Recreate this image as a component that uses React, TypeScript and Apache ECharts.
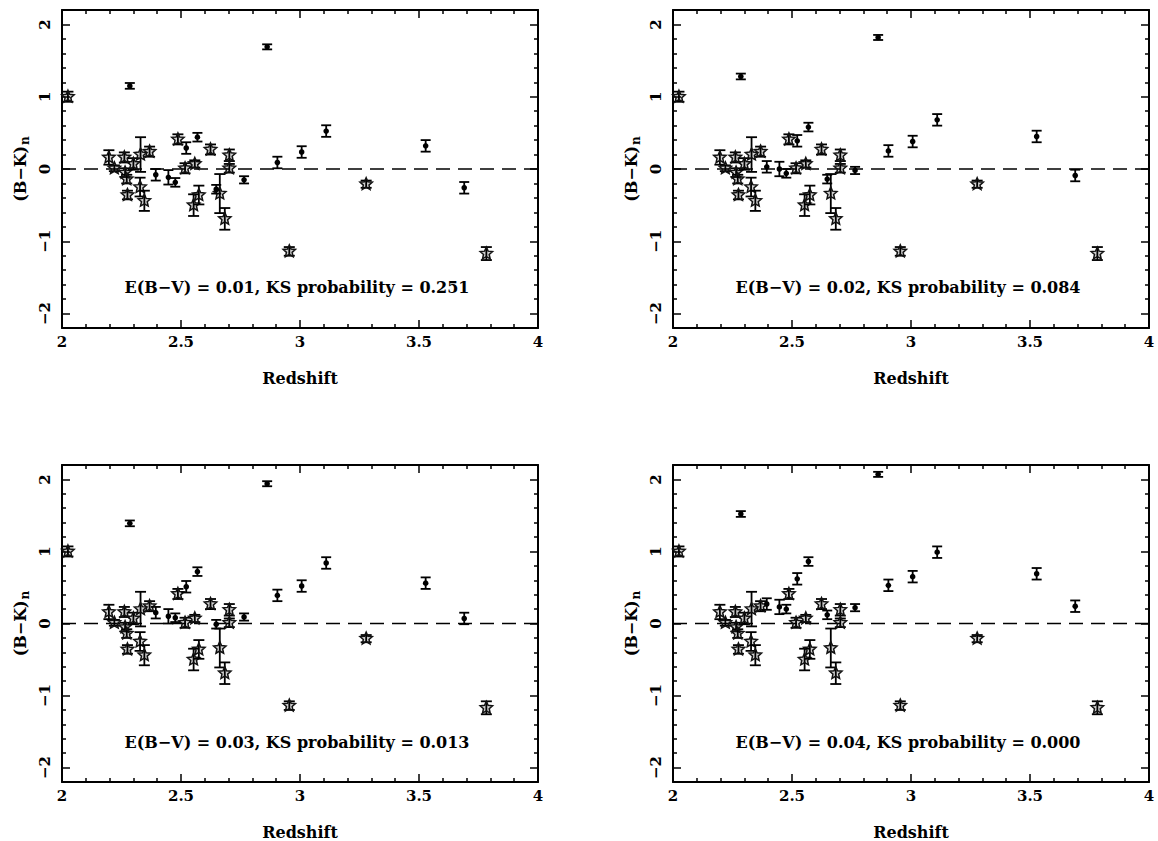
import React, { useEffect, useRef } from "react";
import * as echarts from "echarts";

// Objects drawn with star markers (unchanged by the reddening correction)
const starZ = [2.025, 2.197, 2.22, 2.262, 2.265, 2.272, 2.275, 2.3, 2.33, 2.328, 2.346, 2.368, 2.487, 2.517, 2.558, 2.553, 2.575, 2.624, 2.663, 2.684, 2.703, 2.703, 2.955, 3.278, 3.783];
const starBK = [1.0, 0.16, 0.01, 0.16, -0.05, -0.14, -0.36, 0.07, 0.2, -0.25, -0.44, 0.24, 0.41, 0.01, 0.07, -0.5, -0.36, 0.27, -0.34, -0.69, 0.19, 0.01, -1.14, -0.21, -1.17];
const starErr = [0.07, 0.1, 0.04, 0.07, 0.06, 0.06, 0.06, 0.08, 0.24, 0.13, 0.14, 0.07, 0.07, 0.07, 0.05, 0.15, 0.13, 0.07, 0.27, 0.15, 0.08, 0.06, 0.06, 0.05, 0.09];

// Objects drawn with dot markers, corrected for each assumed E(B-V)
const dotZ = [2.285, 2.394, 2.447, 2.476, 2.522, 2.569, 2.648, 2.765, 2.862, 2.905, 3.007, 3.11, 3.528, 3.69];
const dotErr = [0.04, 0.08, 0.1, 0.06, 0.08, 0.06, 0.06, 0.05, 0.035, 0.08, 0.08, 0.08, 0.08, 0.08];
const dotBK001 = [1.15, -0.08, -0.115, -0.185, 0.29, 0.44, -0.28, -0.15, 1.69, 0.09, 0.235, 0.525, 0.32, -0.26];
const dotBK002 = [1.28, 0.03, 0.0, -0.06, 0.39, 0.58, -0.14, -0.02, 1.82, 0.25, 0.38, 0.68, 0.45, -0.09];
const dotBK003 = [1.39, 0.15, 0.1, 0.08, 0.51, 0.72, -0.01, 0.09, 1.94, 0.39, 0.52, 0.84, 0.56, 0.07];
const dotBK004 = [1.52, 0.27, 0.23, 0.2, 0.62, 0.86, 0.12, 0.22, 2.07, 0.53, 0.65, 0.99, 0.69, 0.24];
const dotSets = [dotBK001, dotBK002, dotBK003, dotBK004];

const ebvValues = ["0.01", "0.02", "0.03", "0.04"];
const ksValues = ["0.251", "0.084", "0.013", "0.000"];

const yMajorTicks = [-2, -1, 0, 1, 2];
const yMinorTicks = [-1.8, -1.6, -1.4, -1.2, -0.8, -0.6, -0.4, -0.2, 0.2, 0.4, 0.6, 0.8, 1.2, 1.4, 1.6, 1.8];

const FONT = '"DejaVu Serif", serif';
const INK = "#000";

const panelBoxes = [
  { left: 62, top: 10 },
  { left: 673, top: 10 },
  { left: 62, top: 465 },
  { left: 673, top: 465 },
];
const PW = 476;
const PH = 318;

function starPoints(cx: number, cy: number, R: number, r: number) {
  const pts: number[][] = [];
  for (let k = 0; k < 10; k++) {
    const a = -Math.PI / 2 + (k * Math.PI) / 5;
    const rad = k % 2 === 0 ? R : r;
    pts.push([cx + rad * Math.cos(a), cy + rad * Math.sin(a)]);
  }
  return pts;
}

function makeRenderItem(kind: "star" | "dot") {
  return (params: any, api: any) => {
    const z = api.value(0);
    const v = api.value(1);
    const e = api.value(2);
    const c = api.coord([z, v]);
    const lo = api.coord([z, v - e]);
    const hi = api.coord([z, v + e]);
    const cap = kind === "star" ? 5.5 : 5;
    const ls = { stroke: INK, lineWidth: 1.8 };
    const children: any[] = [
      { type: "line", shape: { x1: c[0], y1: lo[1], x2: c[0], y2: hi[1] }, style: ls },
      { type: "line", shape: { x1: c[0] - cap, y1: lo[1], x2: c[0] + cap, y2: lo[1] }, style: ls },
      { type: "line", shape: { x1: c[0] - cap, y1: hi[1], x2: c[0] + cap, y2: hi[1] }, style: ls },
    ];
    if (kind === "star") {
      children.push({
        type: "polygon",
        shape: { points: starPoints(c[0], c[1], 6.5, 3.0) },
        style: { fill: "rgba(0,0,0,0.18)", stroke: "#111", lineWidth: 1.5 },
      });
    } else {
      children.push({ type: "circle", shape: { cx: c[0], cy: c[1], r: 2.8 }, style: { fill: INK } });
    }
    return { type: "group", children };
  };
}

function buildOption() {
  const grid: any[] = [];
  const xAxis: any[] = [];
  const yAxis: any[] = [];
  const series: any[] = [];
  const graphic: any[] = [];

  const axisLine = { show: true, onZero: false, lineStyle: { color: INK, width: 2 } };
  const labelStyle = { color: INK, fontFamily: FONT, fontWeight: "bold", fontSize: 15 };

  panelBoxes.forEach((p, i) => {
    grid.push({ left: p.left, top: p.top, width: PW, height: PH, containLabel: false });

    const xBase = {
      type: "value",
      gridIndex: i,
      min: 2,
      max: 4,
      interval: 0.5,
      axisLine,
      axisTick: { show: true, inside: true, length: 8, lineStyle: { color: INK, width: 1.5 } },
      minorTick: { show: true, splitNumber: 5, length: 4, lineStyle: { color: INK, width: 1.5 } },
      splitLine: { show: false },
      minorSplitLine: { show: false },
    };
    xAxis.push({
      ...xBase,
      position: "bottom",
      name: "Redshift",
      nameLocation: "middle",
      nameGap: 42,
      nameTextStyle: { ...labelStyle, fontSize: 16 },
      axisLabel: { show: true, margin: 6, ...labelStyle, formatter: (v: number) => String(v) },
    });
    xAxis.push({ ...xBase, position: "top", axisLabel: { show: false } });

    const yBase = {
      type: "value",
      gridIndex: i,
      min: -2.2,
      max: 2.2,
      splitLine: { show: false },
    };
    yAxis.push({
      ...yBase,
      position: "left",
      axisLine,
      axisTick: { show: true, inside: true, length: 8, customValues: yMajorTicks, lineStyle: { color: INK, width: 1.5 } },
      axisLabel: {
        show: true,
        customValues: yMajorTicks,
        rotate: 90,
        margin: 10,
        ...labelStyle,
        formatter: (v: number) => (v < 0 ? "\u2212" + Math.abs(v) : String(v)),
      },
      name: "(B\u2212K){sub|n}",
      nameLocation: "middle",
      nameGap: 31,
      nameRotate: 90,
      nameTextStyle: {
        ...labelStyle,
        fontSize: 16,
        rich: { sub: { fontFamily: FONT, fontWeight: "bold", fontSize: 12, color: INK, verticalAlign: "bottom", padding: [9, 0, 0, 1] } },
      },
    });
    yAxis.push({
      ...yBase,
      position: "left",
      axisLine: { show: false },
      axisLabel: { show: false },
      axisTick: { show: true, inside: true, length: 4, customValues: yMinorTicks, lineStyle: { color: INK, width: 1.5 } },
    });
    yAxis.push({
      ...yBase,
      position: "right",
      axisLine,
      axisLabel: { show: false },
      axisTick: { show: true, inside: true, length: 8, customValues: yMajorTicks, lineStyle: { color: INK, width: 1.5 } },
    });
    yAxis.push({
      ...yBase,
      position: "right",
      axisLine: { show: false },
      axisLabel: { show: false },
      axisTick: { show: true, inside: true, length: 4, customValues: yMinorTicks, lineStyle: { color: INK, width: 1.5 } },
    });

    const xi = i * 2;
    const yi = i * 4;

    // zero reference line
    series.push({
      type: "line",
      xAxisIndex: xi,
      yAxisIndex: yi,
      data: [
        [2, 0],
        [4, 0],
      ],
      symbol: "none",
      silent: true,
      lineStyle: { color: INK, width: 1.6, type: [14, 8] },
      z: 1,
    });

    series.push({
      type: "custom",
      xAxisIndex: xi,
      yAxisIndex: yi,
      renderItem: makeRenderItem("star"),
      data: starZ.map((z, k) => [z, starBK[k], starErr[k]]),
      encode: { x: 0, y: 1 },
      z: 3,
    });
    series.push({
      type: "custom",
      xAxisIndex: xi,
      yAxisIndex: yi,
      renderItem: makeRenderItem("dot"),
      data: dotZ.map((z, k) => [z, dotSets[i][k], dotErr[k]]),
      encode: { x: 0, y: 1 },
      z: 3,
    });

    graphic.push({
      type: "text",
      x: p.left + PW / 2 - 3,
      y: p.top + 277,
      style: {
        text: `E(B\u2212V) = ${ebvValues[i]}, KS probability = ${ksValues[i]}`,
        fill: INK,
        fontFamily: FONT,
        fontWeight: "bold",
        fontSize: 16,
        align: "center",
        verticalAlign: "middle",
      },
    });
  });

  return {
    animation: false,
    backgroundColor: "#fff",
    grid,
    xAxis,
    yAxis,
    series,
    graphic,
  };
}

export default function App() {
  const ref = useRef<HTMLDivElement>(null);

  useEffect(() => {
    document.body.style.margin = "0";
    if (!ref.current) return;
    const chart = echarts.init(ref.current, undefined, { renderer: "svg" });
    chart.setOption(buildOption() as any);
    return () => chart.dispose();
  }, []);

  return <div ref={ref} style={{ width: 1158, height: 841 }} />;
}
